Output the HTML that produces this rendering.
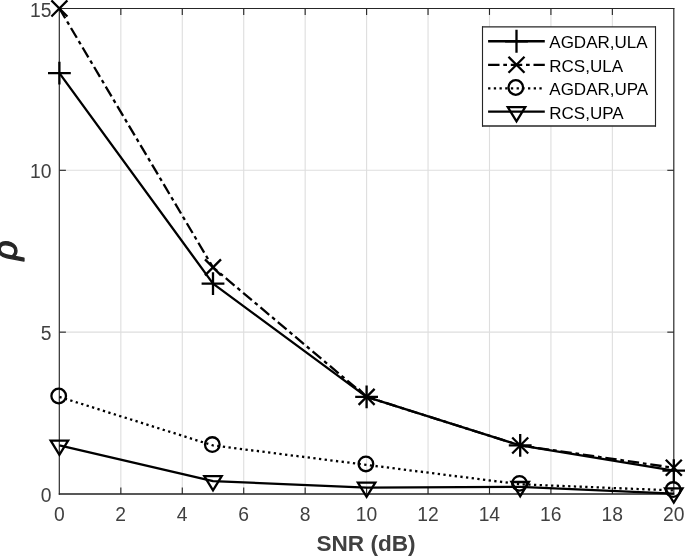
<!DOCTYPE html>
<html><head><meta charset="utf-8"><title>plot</title>
<style>html,body{margin:0;padding:0;background:#fff}body{width:685px;height:556px;overflow:hidden}</style></head>
<body>
<svg width="685" height="556" viewBox="0 0 685 556" style="display:block">
<rect width="685" height="556" fill="#fff"/>
<line x1="59.40" y1="8.45" x2="59.40" y2="494.0" stroke="#dedede" stroke-width="1.1"/>
<line x1="120.84" y1="8.45" x2="120.84" y2="494.0" stroke="#dedede" stroke-width="1.1"/>
<line x1="182.28" y1="8.45" x2="182.28" y2="494.0" stroke="#dedede" stroke-width="1.1"/>
<line x1="243.72" y1="8.45" x2="243.72" y2="494.0" stroke="#dedede" stroke-width="1.1"/>
<line x1="305.16" y1="8.45" x2="305.16" y2="494.0" stroke="#dedede" stroke-width="1.1"/>
<line x1="366.60" y1="8.45" x2="366.60" y2="494.0" stroke="#dedede" stroke-width="1.1"/>
<line x1="428.04" y1="8.45" x2="428.04" y2="494.0" stroke="#dedede" stroke-width="1.1"/>
<line x1="489.48" y1="8.45" x2="489.48" y2="494.0" stroke="#dedede" stroke-width="1.1"/>
<line x1="550.92" y1="8.45" x2="550.92" y2="494.0" stroke="#dedede" stroke-width="1.1"/>
<line x1="612.36" y1="8.45" x2="612.36" y2="494.0" stroke="#dedede" stroke-width="1.1"/>
<line x1="673.80" y1="8.45" x2="673.80" y2="494.0" stroke="#dedede" stroke-width="1.1"/>
<line x1="59.4" y1="494.00" x2="673.8" y2="494.00" stroke="#dedede" stroke-width="1.1"/>
<line x1="59.4" y1="332.15" x2="673.8" y2="332.15" stroke="#dedede" stroke-width="1.1"/>
<line x1="59.4" y1="170.30" x2="673.8" y2="170.30" stroke="#dedede" stroke-width="1.1"/>
<line x1="59.4" y1="8.45" x2="673.8" y2="8.45" stroke="#dedede" stroke-width="1.1"/>
<line x1="59.30" y1="7.89" x2="59.30" y2="494.67" stroke="#262626" stroke-width="1.12"/>
<line x1="673.80" y1="7.89" x2="673.80" y2="494.67" stroke="#262626" stroke-width="1.12"/>
<line x1="58.80" y1="8.45" x2="674.36" y2="8.45" stroke="#262626" stroke-width="1.12"/>
<line x1="58.80" y1="494.00" x2="674.36" y2="494.00" stroke="#262626" stroke-width="1.35"/>
<line x1="120.84" y1="494.0" x2="120.84" y2="487.5" stroke="#262626" stroke-width="1.12"/>
<line x1="120.84" y1="8.45" x2="120.84" y2="14.95" stroke="#262626" stroke-width="1.12"/>
<line x1="182.28" y1="494.0" x2="182.28" y2="487.5" stroke="#262626" stroke-width="1.12"/>
<line x1="182.28" y1="8.45" x2="182.28" y2="14.95" stroke="#262626" stroke-width="1.12"/>
<line x1="243.72" y1="494.0" x2="243.72" y2="487.5" stroke="#262626" stroke-width="1.12"/>
<line x1="243.72" y1="8.45" x2="243.72" y2="14.95" stroke="#262626" stroke-width="1.12"/>
<line x1="305.16" y1="494.0" x2="305.16" y2="487.5" stroke="#262626" stroke-width="1.12"/>
<line x1="305.16" y1="8.45" x2="305.16" y2="14.95" stroke="#262626" stroke-width="1.12"/>
<line x1="366.60" y1="494.0" x2="366.60" y2="487.5" stroke="#262626" stroke-width="1.12"/>
<line x1="366.60" y1="8.45" x2="366.60" y2="14.95" stroke="#262626" stroke-width="1.12"/>
<line x1="428.04" y1="494.0" x2="428.04" y2="487.5" stroke="#262626" stroke-width="1.12"/>
<line x1="428.04" y1="8.45" x2="428.04" y2="14.95" stroke="#262626" stroke-width="1.12"/>
<line x1="489.48" y1="494.0" x2="489.48" y2="487.5" stroke="#262626" stroke-width="1.12"/>
<line x1="489.48" y1="8.45" x2="489.48" y2="14.95" stroke="#262626" stroke-width="1.12"/>
<line x1="550.92" y1="494.0" x2="550.92" y2="487.5" stroke="#262626" stroke-width="1.12"/>
<line x1="550.92" y1="8.45" x2="550.92" y2="14.95" stroke="#262626" stroke-width="1.12"/>
<line x1="612.36" y1="494.0" x2="612.36" y2="487.5" stroke="#262626" stroke-width="1.12"/>
<line x1="612.36" y1="8.45" x2="612.36" y2="14.95" stroke="#262626" stroke-width="1.12"/>
<line x1="59.4" y1="332.15" x2="65.9" y2="332.15" stroke="#262626" stroke-width="1.12"/>
<line x1="673.8" y1="332.15" x2="667.3" y2="332.15" stroke="#262626" stroke-width="1.12"/>
<line x1="59.4" y1="170.30" x2="65.9" y2="170.30" stroke="#262626" stroke-width="1.12"/>
<line x1="673.8" y1="170.30" x2="667.3" y2="170.30" stroke="#262626" stroke-width="1.12"/>
<text x="59.30" y="521.0" text-anchor="middle" font-family="Liberation Sans, Arial, Helvetica, sans-serif" font-size="19.3" fill="#404040">0</text>
<text x="120.74" y="521.0" text-anchor="middle" font-family="Liberation Sans, Arial, Helvetica, sans-serif" font-size="19.3" fill="#404040">2</text>
<text x="182.18" y="521.0" text-anchor="middle" font-family="Liberation Sans, Arial, Helvetica, sans-serif" font-size="19.3" fill="#404040">4</text>
<text x="243.62" y="521.0" text-anchor="middle" font-family="Liberation Sans, Arial, Helvetica, sans-serif" font-size="19.3" fill="#404040">6</text>
<text x="305.06" y="521.0" text-anchor="middle" font-family="Liberation Sans, Arial, Helvetica, sans-serif" font-size="19.3" fill="#404040">8</text>
<text x="366.50" y="521.0" text-anchor="middle" font-family="Liberation Sans, Arial, Helvetica, sans-serif" font-size="19.3" fill="#404040">10</text>
<text x="427.94" y="521.0" text-anchor="middle" font-family="Liberation Sans, Arial, Helvetica, sans-serif" font-size="19.3" fill="#404040">12</text>
<text x="489.38" y="521.0" text-anchor="middle" font-family="Liberation Sans, Arial, Helvetica, sans-serif" font-size="19.3" fill="#404040">14</text>
<text x="550.82" y="521.0" text-anchor="middle" font-family="Liberation Sans, Arial, Helvetica, sans-serif" font-size="19.3" fill="#404040">16</text>
<text x="612.26" y="521.0" text-anchor="middle" font-family="Liberation Sans, Arial, Helvetica, sans-serif" font-size="19.3" fill="#404040">18</text>
<text x="673.70" y="521.0" text-anchor="middle" font-family="Liberation Sans, Arial, Helvetica, sans-serif" font-size="19.3" fill="#404040">20</text>
<text x="51.5" y="501.60" text-anchor="end" font-family="Liberation Sans, Arial, Helvetica, sans-serif" font-size="19.3" fill="#404040">0</text>
<text x="51.5" y="340.40" text-anchor="end" font-family="Liberation Sans, Arial, Helvetica, sans-serif" font-size="19.3" fill="#404040">5</text>
<text x="51.5" y="178.40" text-anchor="end" font-family="Liberation Sans, Arial, Helvetica, sans-serif" font-size="19.3" fill="#404040">10</text>
<text x="51.5" y="16.85" text-anchor="end" font-family="Liberation Sans, Arial, Helvetica, sans-serif" font-size="19.3" fill="#404040">15</text>
<text x="366" y="551.1" text-anchor="middle" font-family="Liberation Sans, Arial, Helvetica, sans-serif" font-size="22.6" font-weight="bold" fill="#404040">SNR (dB)</text>
<text transform="translate(17.0,250.32) rotate(-90)" text-anchor="middle" font-family="Liberation Sans, Arial, Helvetica, sans-serif" font-size="34.5" font-style="italic" fill="#262626" stroke="#262626" stroke-width="1.25" stroke-linejoin="round">ρ</text>
<polyline points="59.40,73.19 213.00,283.59 366.60,396.89 520.20,445.44 673.80,470.69" fill="none" stroke="#000" stroke-width="2.3" stroke-linejoin="round"/>
<path d="M48.00 73.19H70.80M59.40 61.79V84.59" stroke="#000" stroke-width="2.3" fill="none"/>
<path d="M201.60 283.59H224.40M213.00 272.19V294.99" stroke="#000" stroke-width="2.3" fill="none"/>
<path d="M355.20 396.89H378.00M366.60 385.49V408.29" stroke="#000" stroke-width="2.3" fill="none"/>
<path d="M508.80 445.44H531.60M520.20 434.05V456.84" stroke="#000" stroke-width="2.3" fill="none"/>
<path d="M662.40 470.69H685.20M673.80 459.29V482.09" stroke="#000" stroke-width="2.3" fill="none"/>
<polyline points="59.40,8.45 213.00,267.41 366.60,396.89 520.20,445.44 673.80,467.78" fill="none" stroke="#000" stroke-width="2.3" stroke-linejoin="round" stroke-dasharray="11.4 3.8 3.7 3.8"/>
<path d="M51.40 0.45L67.40 16.45M51.40 16.45L67.40 0.45" stroke="#000" stroke-width="2.3" fill="none"/>
<path d="M205.00 259.41L221.00 275.41M205.00 275.41L221.00 259.41" stroke="#000" stroke-width="2.3" fill="none"/>
<path d="M358.60 388.89L374.60 404.89M358.60 404.89L374.60 388.89" stroke="#000" stroke-width="2.3" fill="none"/>
<path d="M512.20 437.44L528.20 453.44M512.20 453.44L528.20 437.44" stroke="#000" stroke-width="2.3" fill="none"/>
<path d="M665.80 459.78L681.80 475.78M665.80 475.78L681.80 459.78" stroke="#000" stroke-width="2.3" fill="none"/>
<polyline points="59.40,396.89 213.00,445.44 366.60,464.87 520.20,484.29 673.80,490.44" fill="none" stroke="#000" stroke-width="2.3" stroke-linejoin="round" stroke-dasharray="2.3 3.4"/>
<circle cx="58.70" cy="395.99" r="7.3" stroke="#000" stroke-width="2.3" fill="none"/>
<circle cx="212.30" cy="444.55" r="7.3" stroke="#000" stroke-width="2.3" fill="none"/>
<circle cx="365.90" cy="463.97" r="7.3" stroke="#000" stroke-width="2.3" fill="none"/>
<circle cx="519.50" cy="483.39" r="7.3" stroke="#000" stroke-width="2.3" fill="none"/>
<circle cx="673.10" cy="489.54" r="7.3" stroke="#000" stroke-width="2.3" fill="none"/>
<polyline points="59.40,445.44 213.00,481.05 366.60,487.53 520.20,486.88 673.80,493.68" fill="none" stroke="#000" stroke-width="2.3" stroke-linejoin="round"/>
<path d="M50.70 440.55H68.10L59.40 454.75Z" stroke="#000" stroke-width="2.3" fill="none" stroke-linejoin="miter"/>
<path d="M204.30 476.15H221.70L213.00 490.35Z" stroke="#000" stroke-width="2.3" fill="none" stroke-linejoin="miter"/>
<path d="M357.90 482.63H375.30L366.60 496.83Z" stroke="#000" stroke-width="2.3" fill="none" stroke-linejoin="miter"/>
<path d="M511.50 481.98H528.90L520.20 496.18Z" stroke="#000" stroke-width="2.3" fill="none" stroke-linejoin="miter"/>
<path d="M665.10 488.28H682.50L673.80 502.48Z" stroke="#000" stroke-width="2.3" fill="none" stroke-linejoin="miter"/>
<rect x="482.5" y="26.9" width="173.00" height="99.10" fill="#fff"/>
<line x1="482.50" y1="26.30" x2="482.50" y2="126.60" stroke="#262626" stroke-width="1.12"/>
<line x1="655.50" y1="26.30" x2="655.50" y2="126.60" stroke="#262626" stroke-width="1.12"/>
<line x1="482.00" y1="26.90" x2="656.00" y2="26.90" stroke="#262626" stroke-width="1.35"/>
<line x1="482.00" y1="126.00" x2="656.00" y2="126.00" stroke="#262626" stroke-width="1.35"/>
<line x1="488.1" y1="41.25" x2="544.8" y2="41.25" stroke="#000" stroke-width="2.3"/>
<path d="M505.10 41.25H527.90M516.50 29.85V52.65" stroke="#000" stroke-width="2.3" fill="none"/>
<text x="549.3" y="48.25" font-family="Liberation Sans, Arial, Helvetica, sans-serif" font-size="17" fill="#000">AGDAR,ULA</text>
<line x1="488.1" y1="64.8" x2="544.8" y2="64.8" stroke="#000" stroke-width="2.3" stroke-dasharray="11.4 3.8 3.7 3.8"/>
<path d="M508.50 56.80L524.50 72.80M508.50 72.80L524.50 56.80" stroke="#000" stroke-width="2.3" fill="none"/>
<text x="549.3" y="71.75" font-family="Liberation Sans, Arial, Helvetica, sans-serif" font-size="17" fill="#000">RCS,ULA</text>
<line x1="488.1" y1="88.4" x2="544.8" y2="88.4" stroke="#000" stroke-width="2.3" stroke-dasharray="2.3 3.4"/>
<circle cx="515.80" cy="87.50" r="7.3" stroke="#000" stroke-width="2.3" fill="none"/>
<text x="549.3" y="95.25" font-family="Liberation Sans, Arial, Helvetica, sans-serif" font-size="17" fill="#000">AGDAR,UPA</text>
<line x1="488.1" y1="111.7" x2="544.8" y2="111.7" stroke="#000" stroke-width="2.3"/>
<path d="M507.80 107.15H525.20L516.50 121.35Z" stroke="#000" stroke-width="2.3" fill="none" stroke-linejoin="miter"/>
<text x="549.3" y="118.75" font-family="Liberation Sans, Arial, Helvetica, sans-serif" font-size="17" fill="#000">RCS,UPA</text>
</svg>
</body></html>
